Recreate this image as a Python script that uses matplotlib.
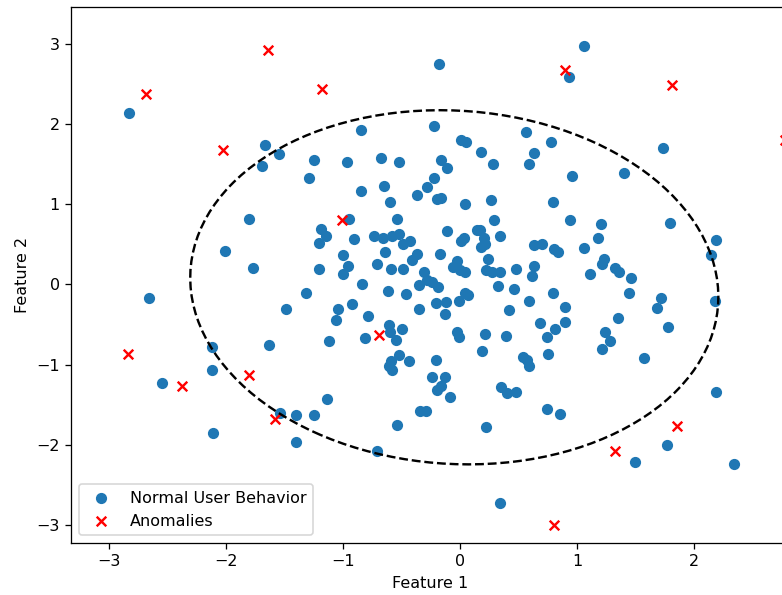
import matplotlib
matplotlib.use("Agg")
from matplotlib import pyplot as plt
from matplotlib.patches import Ellipse

# normal points
normal_x = [-2.83, -1.67, -1.55, -1.69, -0.85, -1.25, -0.97, -0.68, -0.52, -1.29,
            -0.18, 1.06, 0.93, -0.22, 0.01, 0.05, 0.18, 0.28, 0.56, 0.78,
            0.63, 0.59, 0.96, -0.16, -0.11, -0.22, 1.73, 1.40,
            -2.01, -2.66, -2.12, -2.12,
            -0.85, -0.65, -0.37, -0.28, -0.60, -1.80, -0.95, -1.19, -1.15, -1.21,
            -0.54, -0.91, -0.74, -0.66, -0.58, -0.52, -0.49, -0.43, -0.64, -0.37,
            -0.41, -1.00, -1.77, -1.21, -0.96, -1.00, -0.71, -0.59, -0.49, -0.31,
            -0.84, -0.35, -0.28, -1.32, -0.62, -0.46, -1.49, -0.92, -1.04, -1.06,
            -0.79, -0.35, -0.61, -0.60, -0.50, -0.55, -0.81, -1.12, -1.63, -0.52,
            -0.44, -0.59, -0.61, -0.58,
            -0.20, -0.16, 0.04, 0.26, 0.79, 0.29, 0.94, 1.20, -0.11, 0.14,
            0.17, 0.03, 0.01, 0.20, 0.21, 0.18, 0.34, 0.63, 0.70, 0.80,
            0.84, 1.06, 1.18, -0.17, -0.03, -0.06, 0.00, 0.04, 0.24, 0.22,
            0.27, 0.34, 0.48, 0.63, 0.61, 1.11, 1.23, 1.21, -0.24, -0.19,
            0.32, 0.46, 0.04, 0.07, -0.01, -0.21, -0.12, -0.13, 0.59, 0.79,
            0.42, 0.90, 0.90, 0.68, 0.81, 0.74, -0.03, -0.01, 0.21, 0.39,
            0.19, 1.24, 1.28, 1.21, 0.54, 0.57, 0.59, 0.75, -0.21,
            1.79, 2.19, 2.14, 1.32, 1.36, 1.46, 1.44, 1.72, 1.68, 2.18,
            1.35, 1.78, 1.57,
            -2.55, -2.11,
            -1.14, -1.54, -1.40, -1.25, -1.40, -0.71, -0.54, -0.34, -0.29,
            -0.24, -0.13, -0.20, -0.16, -0.09, 0.35, 0.40, 0.48, 0.74, 0.85,
            0.22, 0.34,
            2.19, 1.77, 1.49, 2.34]
normal_y = [2.14, 1.74, 1.62, 1.48, 1.93, 1.55, 1.53, 1.58, 1.53, 1.32,
            2.74, 2.97, 2.59, 1.97, 1.80, 1.77, 1.65, 1.50, 1.90, 1.78,
            1.64, 1.50, 1.35, 1.55, 1.45, 1.32, 1.70, 1.39,
            0.42, -0.17, -0.78, -1.07,
            1.16, 1.23, 1.11, 1.22, 1.03, 0.82, 0.81, 0.69, 0.60, 0.52,
            0.82, 0.57, 0.60, 0.58, 0.60, 0.63, 0.50, 0.54, 0.41, 0.38,
            0.31, 0.37, 0.21, 0.19, 0.23, 0.13, 0.25, 0.19, 0.19, 0.16,
            0.01, -0.01, 0.06, -0.10, -0.08, -0.12, -0.30, -0.24, -0.30, -0.44,
            -0.39, -0.31, -0.51, -0.59, -0.55, -0.69, -0.67, -0.70, -0.75, -0.88,
            -0.95, -0.95, -1.02, -1.06,
            1.06, 1.08, 1.00, 1.05, 1.03, 0.80, 0.80, 0.75, 0.67, 0.68,
            0.68, 0.58, 0.54, 0.58, 0.51, 0.47, 0.60, 0.49, 0.51, 0.44,
            0.41, 0.45, 0.58, 0.38, 0.29, 0.22, 0.18, 0.15, 0.32, 0.18,
            0.15, 0.15, 0.19, 0.23, 0.11, 0.13, 0.32, 0.25, 0.03, -0.03,
            -0.02, -0.06, -0.11, -0.13, -0.20, -0.23, -0.22, -0.37, -0.20, -0.11,
            -0.32, -0.28, -0.47, -0.48, -0.55, -0.65, -0.59, -0.65, -0.62, -0.64,
            -0.83, -0.59, -0.71, -0.80, -0.90, -0.94, -1.02, -0.87, -0.94,
            0.77, 0.55, 0.37, 0.20, 0.16, 0.08, -0.11, -0.17, -0.29, -0.20,
            -0.42, -0.53, -0.92,
            -1.23, -1.85,
            -1.43, -1.60, -1.62, -1.63, -1.96, -2.07, -1.75, -1.57, -1.57,
            -1.15, -1.15, -1.31, -1.27, -1.40, -1.28, -1.35, -1.34, -1.55, -1.61,
            -1.78, -2.72,
            -1.34, -2.00, -2.21, -2.24]

# anomalies
anomaly_x = [-2.68, -2.03, -1.64, -1.18, 0.90, 1.81, 2.78, -1.01,
             -0.69, -2.84, -2.38, -1.80, -1.58, 0.80, 1.85, 1.32]
anomaly_y = [2.37, 1.68, 2.92, 2.43, 2.67, 2.48, 1.80, 0.80,
             -0.63, -0.86, -1.26, -1.13, -1.67, -3.00, -1.76, -2.08]

# boundary ellipse
center = (-0.05, -0.035)
width, height, angle = 4.59, 4.33, -33.5


def main():
    # the reference looks like a slightly upscaled render, so use dpi 115
    dpi = 115
    fig = plt.figure(figsize=(782 / dpi, 595 / dpi), dpi=dpi)
    # axes run past the right edge, like the cropped reference
    ax = fig.add_axes([71 / 782, 52 / 595, 718 / 782, 536 / 595])

    ax.scatter(normal_x, normal_y, label="Normal User Behavior")
    ax.scatter(anomaly_x, anomaly_y, color="red", marker="x", label="Anomalies")

    ell = Ellipse(center, width, height, angle=angle, fill=False,
                  edgecolor="black", linestyle="--", linewidth=1.5)
    ax.add_patch(ell)

    ax.set_xlim(-3.325, 2.81)
    ax.set_ylim(-3.22, 3.456)
    ax.set_xlabel("Feature 1")
    ax.set_ylabel("Feature 2")
    ax.legend(loc="lower left")

    fig.savefig("out.png", dpi=dpi)


if __name__ == '__main__':
    main()
